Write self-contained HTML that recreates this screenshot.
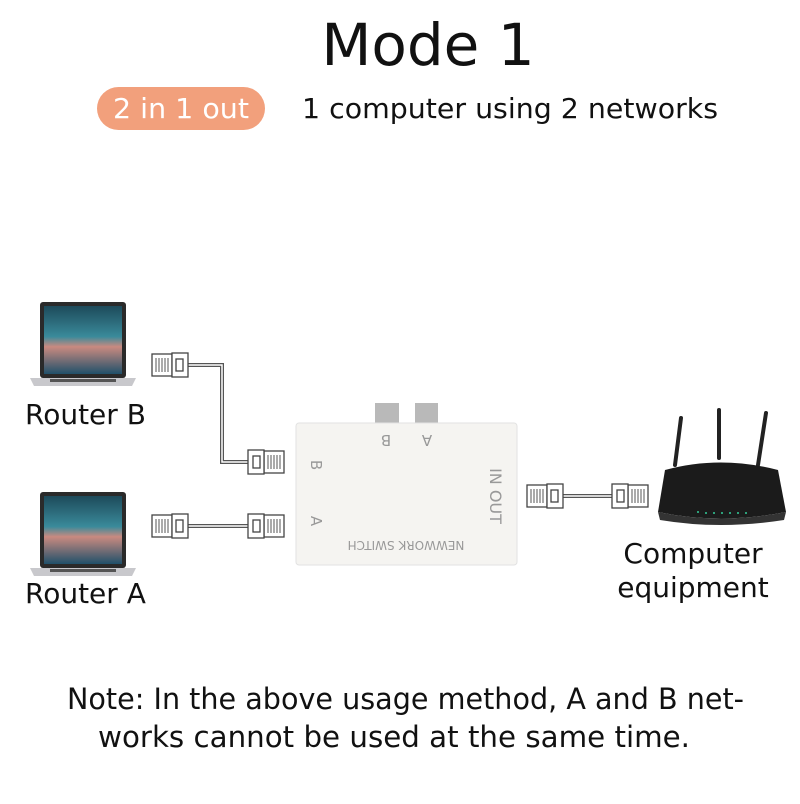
<!DOCTYPE html>
<html><head><style>
body{margin:0;width:800px;height:800px;background:#fff;overflow:hidden;font-family:"DejaVu Sans","Liberation Sans",sans-serif}
</style></head><body>
<svg width="800" height="800" xmlns="http://www.w3.org/2000/svg" font-family="DejaVu Sans, Liberation Sans, sans-serif">
<defs>
<linearGradient id="scr" x1="0" y1="0" x2="0" y2="1">
<stop offset="0" stop-color="#1d4a5a"/><stop offset="0.45" stop-color="#3a8a9a"/><stop offset="0.6" stop-color="#c98a80"/><stop offset="1" stop-color="#20506a"/></linearGradient>
<g id="laptop">
<rect x="40" y="0" width="86" height="76" rx="3" fill="#2a2a2a"/>
<rect x="44" y="4" width="78" height="68" fill="url(#scr)"/>
<path d="M30 76 H136 L132 84 H34 Z" fill="#c8c8cc"/>
<rect x="50" y="77" width="66" height="3" fill="#555"/>
</g>
<g id="plug">
<rect x="0" y="-11" width="20" height="22" fill="#fff" stroke="#444" stroke-width="1.3"/>
<g stroke="#555" stroke-width="1"><line x1="4" y1="-7" x2="4" y2="7"/><line x1="7" y1="-7" x2="7" y2="7"/><line x1="10" y1="-7" x2="10" y2="7"/><line x1="13" y1="-7" x2="13" y2="7"/><line x1="16" y1="-7" x2="16" y2="7"/></g>
<rect x="20" y="-12" width="16" height="24" fill="#fff" stroke="#444" stroke-width="1.3"/>
<rect x="24" y="-6" width="7" height="12" fill="#fff" stroke="#444" stroke-width="1.3"/>
</g>
</defs>
<text x="428" y="65" font-size="58" text-anchor="middle" fill="#111">Mode 1</text>
<rect x="97" y="87" width="168" height="43" rx="21.5" fill="#f2a07c"/>
<text x="181" y="118" font-size="28" text-anchor="middle" fill="#fff" textLength="136" lengthAdjust="spacingAndGlyphs">2 in 1 out</text>
<text x="302" y="118" font-size="28" fill="#111" textLength="416" lengthAdjust="spacingAndGlyphs">1 computer using 2 networks</text>

<use href="#laptop" y="302"/>
<use href="#laptop" y="492"/>
<text x="25" y="424" font-size="28" fill="#111">Router B</text>
<text x="25" y="603" font-size="28" fill="#111">Router A</text>

<g fill="none" stroke="#555" stroke-width="4"><path d="M188 365 H222 V462 H248"/><path d="M188 526 H248"/><path d="M563 496 H612"/></g>
<g fill="none" stroke="#fff" stroke-width="1.5"><path d="M188 365 H222 V462 H248"/><path d="M188 526 H248"/><path d="M563 496 H612"/></g>
<use href="#plug" x="152" y="365"/>
<use href="#plug" x="284" y="462" transform="translate(284 462) scale(-1 1) translate(-284 -462)"/>
<use href="#plug" x="152" y="526"/>
<use href="#plug" x="284" y="526" transform="translate(284 526) scale(-1 1) translate(-284 -526)"/>
<use href="#plug" x="527" y="496"/>
<use href="#plug" x="648" y="496" transform="translate(648 496) scale(-1 1) translate(-648 -496)"/>

<rect x="375" y="403" width="24" height="22" fill="#b9b9b9"/>
<rect x="415" y="403" width="23" height="22" fill="#b9b9b9"/>
<rect x="296" y="423" width="221" height="142" rx="3" fill="#f5f4f1" stroke="#e2e2e2"/>
<g fill="#999" font-size="15" text-anchor="middle">
<text x="386" y="445" transform="rotate(180 386 440)">B</text>
<text x="427" y="445" transform="rotate(180 427 440)">A</text>
<text x="316" y="470" transform="rotate(90 316 465)">B</text>
<text x="316" y="526" transform="rotate(90 316 521)">A</text>
<text x="495" y="501" transform="rotate(90 495 496)" font-size="16">IN OUT</text>
<text x="406" y="551" transform="rotate(180 406 546)" font-size="12">NEWWORK SWITCH</text>
</g>

<g stroke="#222" stroke-width="4" stroke-linecap="round"><line x1="681" y1="418" x2="675" y2="465"/><line x1="719" y1="410" x2="719" y2="458"/><line x1="766" y1="413" x2="758" y2="465"/></g>
<path d="M665 470 Q720 455 778 470 L786 512 Q720 525 658 512 Z" fill="#1b1b1b"/>
<path d="M658 512 Q720 525 786 512 L784 520 Q720 530 660 520 Z" fill="#333"/>
<g fill="#3c9"><circle cx="698" cy="512" r="1"/><circle cx="706" cy="513" r="1"/><circle cx="714" cy="513" r="1"/><circle cx="722" cy="513" r="1"/><circle cx="730" cy="513" r="1"/><circle cx="738" cy="513" r="1"/><circle cx="746" cy="513" r="1"/></g>
<text x="693" y="563" font-size="28" text-anchor="middle" fill="#111">Computer</text>
<text x="693" y="597" font-size="28" text-anchor="middle" fill="#111">equipment</text>

<text x="67" y="709" font-size="29" fill="#111" textLength="677" lengthAdjust="spacingAndGlyphs">Note: In the above usage method, A and B net-</text>
<text x="98" y="747" font-size="29" fill="#111" textLength="592" lengthAdjust="spacingAndGlyphs">works cannot be used at the same time.</text>
</svg>
</body></html>
